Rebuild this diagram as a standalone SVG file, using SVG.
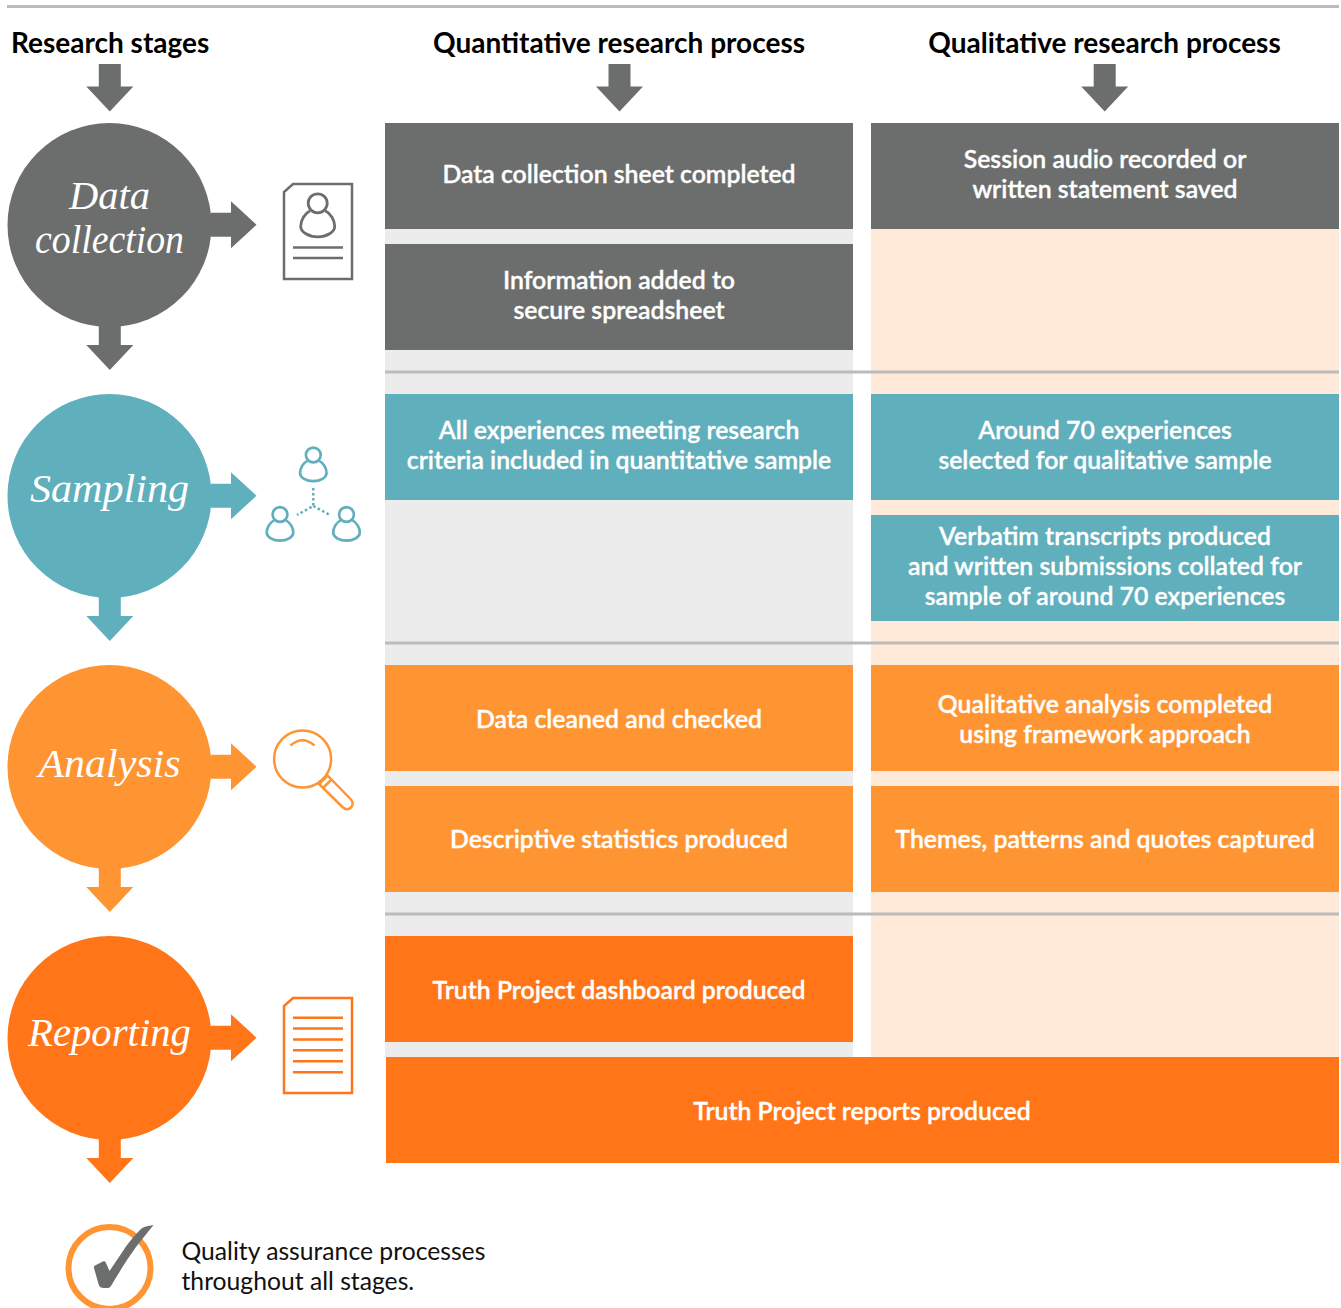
<svg xmlns="http://www.w3.org/2000/svg" width="1341" height="1308" viewBox="0 0 1341 1308">
<style>
.h{font:700 28px Lato,"Liberation Sans",sans-serif;fill:#000}
.b{font:600 24.800px Lato,"Liberation Sans",sans-serif;fill:#fff;stroke:#fff;stroke-width:.35;text-anchor:middle}
.s{font:italic 400 39px "Liberation Serif",serif;fill:#fff;text-anchor:middle}
.q{font:400 24.700px Lato,"Liberation Sans",sans-serif;fill:#111}
.g{fill:#6c6e6d}.t{fill:#5fafbc}.o{fill:#ff9433}.r{fill:#ff7518}
.ln{stroke:#bbb;stroke-width:3;fill:none}
.ic{fill:none;stroke-width:2.500}
</style>
<defs>
<path id="ad" d="M-11 0H11V22.500H23.500L0 47.500L-23.500 22.500H-11Z"/>
<path id="ar" d="M0 -12H20V-23.500L45.500 0L20 23.500V12H0Z"/>
<g id="person"><circle cx="0" cy="0" r="9.500"/><path d="M-7.500 7.500C-13 10-17 17-17 23C-17 29-9 33.500 0 33.500C9 33.500 17 29 17 23C17 17 13 10 7.500 7.500"/></g>
</defs>
<g id="backgrounds">
<rect x="385" y="123" width="468" height="934" fill="#ececec"/>
<rect x="871" y="123" width="468" height="934" fill="#ffe9d9"/>
</g>
<g id="connectors">
<path class="ln" d="M7 6.500H1339M385 372H1339M385 643H1339M385 914H1339"/>
<use href="#ad" class="g" x="109.800" y="64"/>
<use href="#ad" class="g" x="619.500" y="64"/>
<use href="#ad" class="g" x="1104.700" y="64"/>
<use href="#ad" class="g" x="109.800" y="322.500"/>
<use href="#ad" class="t" x="109.800" y="593.500"/>
<use href="#ad" class="o" x="109.800" y="864.500"/>
<use href="#ad" class="r" x="109.800" y="1135.500"/>
<use href="#ar" class="g" x="211" y="224.700"/>
<use href="#ar" class="t" x="211" y="495.700"/>
<use href="#ar" class="o" x="211" y="766.700"/>
<use href="#ar" class="r" x="211" y="1037.700"/>
</g>
<g id="headers">
<text class="h" x="11" y="53">Research stages</text>
<text class="h" x="619" y="53" text-anchor="middle">Quantitative research process</text>
<text class="h" x="1104.500" y="53" text-anchor="middle">Qualitative research process</text>
</g>
<g id="stage-data"><circle class="g" cx="109.500" cy="225" r="102"/><text class="s" x="109.500" y="209" textLength="81" lengthAdjust="spacingAndGlyphs">Data</text><text class="s" x="109.500" y="253" textLength="149" lengthAdjust="spacingAndGlyphs">collection</text></g>
<g id="stage-sampling"><circle class="t" cx="109.500" cy="496" r="102"/><text class="s" x="109.500" y="502" textLength="159" lengthAdjust="spacingAndGlyphs">Sampling</text></g>
<g id="stage-analysis"><circle class="o" cx="109.500" cy="767" r="102"/><text class="s" x="109.500" y="777" textLength="142" lengthAdjust="spacingAndGlyphs">Analysis</text></g>
<g id="stage-reporting"><circle class="r" cx="109.500" cy="1038" r="102"/><text class="s" x="109.500" y="1046" textLength="163" lengthAdjust="spacingAndGlyphs">Reporting</text></g>
<g id="icon-data" class="ic" stroke="#6c6e6d">
<path d="M293 184H352V279H284V192Z"/><use href="#person" transform="translate(317.700 203.300)" stroke-width="2.800"/>
<path d="M293 247.500H343M293 258H343"/>
</g>
<g id="icon-sampling" class="ic" stroke="#5fafbc">
<use href="#person" transform="translate(313.300 455) scale(.78)" stroke-width="3.400"/>
<use href="#person" transform="translate(280 514.500) scale(.78)" stroke-width="3.400"/>
<use href="#person" transform="translate(346.500 514.500) scale(.78)" stroke-width="3.400"/>
<path d="M313.300 488V506L297 515M313.300 506L330 515" stroke-dasharray="2.500 2.500"/>
</g>
<g id="icon-analysis" class="ic" stroke="#ff9433">
<circle cx="302.600" cy="759" r="28.500"/>
<path d="M290.500 745.500Q302.500 735 314.500 745.500"/>
<path d="M319 784L327.700 775.700L351 799.500A5.500 5.500 0 0 1 343 807.500Z"/>
<path d="M323 788L331.500 779.500"/>
</g>
<g id="icon-reporting" class="ic" stroke="#ff7518">
<path d="M293 998H352V1093H284V1006Z"/>
<path d="M293 1017.700H343M293 1028.500H343M293 1039.500H343M293 1050.300H343M293 1061.300H343M293 1072.300H343"/>
</g>
<g id="n1"><rect class="g" x="385" y="123" width="468" height="106"/><text class="b" x="619" y="183">Data collection sheet completed</text></g>
<g id="n2"><rect class="g" x="871" y="123" width="468" height="106"/><text class="b" x="1105" y="168">Session audio recorded or</text><text class="b" x="1105" y="198">written statement saved</text></g>
<g id="n3"><rect class="g" x="385" y="244" width="468" height="106"/><text class="b" x="619" y="289">Information added to</text><text class="b" x="619" y="319">secure spreadsheet</text></g>
<g id="n4"><rect class="t" x="385" y="394" width="468" height="106"/><text class="b" x="619" y="439">All experiences meeting research</text><text class="b" x="619" y="469">criteria included in quantitative sample</text></g>
<g id="n5"><rect class="t" x="871" y="394" width="468" height="106"/><text class="b" x="1105" y="439">Around 70 experiences</text><text class="b" x="1105" y="469">selected for qualitative sample</text></g>
<g id="n6"><rect class="t" x="871" y="515" width="468" height="106"/><text class="b" x="1105" y="545">Verbatim transcripts produced</text><text class="b" x="1105" y="575">and written submissions collated for</text><text class="b" x="1105" y="605">sample of around 70 experiences</text></g>
<g id="n7"><rect class="o" x="385" y="665" width="468" height="106"/><text class="b" x="619" y="728">Data cleaned and checked</text></g>
<g id="n8"><rect class="o" x="871" y="665" width="468" height="106"/><text class="b" x="1105" y="713">Qualitative analysis completed</text><text class="b" x="1105" y="743">using framework approach</text></g>
<g id="n9"><rect class="o" x="385" y="786" width="468" height="106"/><text class="b" x="619" y="848">Descriptive statistics produced</text></g>
<g id="n10"><rect class="o" x="871" y="786" width="468" height="106"/><text class="b" x="1105" y="848">Themes, patterns and quotes captured</text></g>
<g id="n11"><rect class="r" x="385" y="936" width="468" height="106"/><text class="b" x="619" y="999">Truth Project dashboard produced</text></g>
<g id="n12"><rect class="r" x="386" y="1057" width="953" height="106"/><text class="b" x="862" y="1120">Truth Project reports produced</text></g>
<g id="qa">
<circle cx="109.500" cy="1268" r="41" fill="none" stroke="#ff9433" stroke-width="6"/>
<path class="g" d="M153.500 1225C147 1226 143 1227 140 1230C135 1235 128 1243 123 1251L109.500 1271L105.500 1262C105 1261 104 1261 103 1261.500L95 1265.500C94 1266 93.500 1267 94 1268L98.500 1284C99.500 1287 101 1288 104 1288H107C109 1288 110 1287.500 111 1286C118 1274 128 1258 136 1247C142 1239 148 1232 153.500 1225Z"/>
<text class="q" x="181.500" y="1260">Quality assurance processes</text>
<text class="q" x="181.500" y="1290">throughout all stages.</text>
</g>
</svg>
